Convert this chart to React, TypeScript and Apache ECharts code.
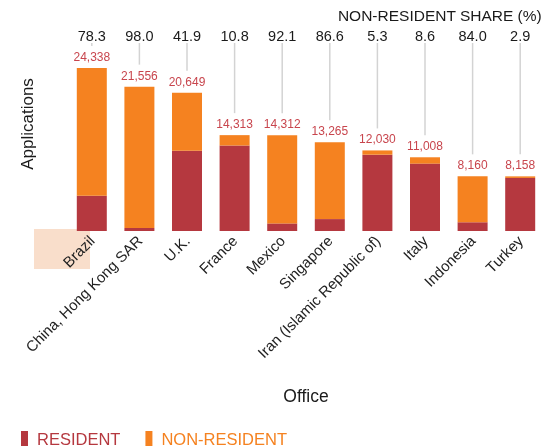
import React, { useEffect, useRef } from "react";
import * as echarts from "echarts";

const offices = [
  "Brazil",
  "China, Hong Kong SAR",
  "U.K.",
  "France",
  "Mexico",
  "Singapore",
  "Iran (Islamic Republic of)",
  "Italy",
  "Indonesia",
  "Turkey",
];
const totals = [24338, 21556, 20649, 14313, 14312, 13265, 12030, 11008, 8160, 8158];
const residents = [5281, 431, 11997, 12767, 1131, 1778, 11392, 10061, 1306, 7921];
const nonResidents = [19057, 21125, 8652, 1546, 13181, 11487, 638, 947, 6854, 237];
const nonResidentShare = ["78.3", "98.0", "41.9", "10.8", "92.1", "86.6", "5.3", "8.6", "84.0", "2.9"];

const RED = "#B5383F";
const ORANGE = "#F58220";
const FONT = "Liberation Sans, Arial, sans-serif";

export default function App() {
  const ref = useRef<HTMLDivElement>(null);
  useEffect(() => {
    if (!ref.current) return;
    const chart = echarts.init(ref.current, undefined, { renderer: "svg" });
    const maxTotal = Math.max(...totals);
    chart.setOption({
      animation: false,
      textStyle: { fontFamily: FONT },
      graphic: [
        {
          type: "rect",
          z: -10,
          shape: { x: 34, y: 229, width: 56, height: 40 },
          style: { fill: "#F9DECB" },
        },
        {
          type: "text",
          x: 27,
          y: 124,
          rotation: Math.PI / 2,
          style: {
            text: "Applications",
            font: `17px ${FONT}`,
            fill: "#1a1a1a",
            align: "center",
            verticalAlign: "middle",
          },
        },
        {
          type: "text",
          right: 2,
          top: 7,
          style: {
            text: "NON-RESIDENT SHARE (%)",
            font: `15.5px ${FONT}`,
            fill: "#1a1a1a",
          },
        },
      ],
      legend: {
        left: 21,
        top: 430,
        padding: 0,
        itemWidth: 7,
        itemHeight: 15,
        itemGap: 25,
        icon: "rect",
        textStyle: { fontSize: 16.5, fontFamily: FONT, padding: [0, 0, 0, 4] },
        data: [
          { name: "RESIDENT", textStyle: { color: RED } },
          { name: "NON-RESIDENT", textStyle: { color: ORANGE } },
        ],
      },
      grid: { left: 68, width: 484, top: 68, height: 163 },
      xAxis: [
        {
          type: "category",
          data: offices,
          axisLine: { show: false },
          axisTick: { show: false },
          axisLabel: {
            rotate: 45,
            fontSize: 15,
            color: "#222",
            margin: 7,
            interval: 0,
            fontFamily: FONT,
          },
          name: "Office",
          nameLocation: "middle",
          nameGap: 156,
          nameTextStyle: { fontSize: 17.5, color: "#1a1a1a", fontFamily: FONT },
        },
        {
          type: "category",
          position: "top",
          data: nonResidentShare,
          axisLine: { show: false },
          axisTick: { show: false },
          axisLabel: { fontSize: 14.5, color: "#1a1a1a", margin: 25, interval: 0, fontFamily: FONT },
        },
      ],
      yAxis: {
        type: "value",
        min: 0,
        max: maxTotal,
        show: false,
        splitLine: { show: false },
      },
      series: [
        {
          name: "RESIDENT",
          type: "bar",
          stack: "total",
          barWidth: 30,
          itemStyle: { color: RED },
          data: residents,
        },
        {
          name: "NON-RESIDENT",
          type: "bar",
          stack: "total",
          barWidth: 30,
          itemStyle: { color: ORANGE },
          label: {
            show: true,
            position: "top",
            distance: 5,
            fontSize: 12,
            color: "#C8454D",
            fontFamily: FONT,
            formatter: (p: any) => totals[p.dataIndex].toLocaleString("en-US"),
          },
          data: nonResidents,
        },
        {
          name: "leader",
          type: "custom",
          silent: true,
          z: 1,
          data: totals.map((t, i) => [i, t]),
          renderItem: (params: any, api: any) => {
            const p = api.coord([api.value(0), api.value(1)]);
            return {
              type: "line",
              shape: { x1: p[0], y1: 43, x2: p[0], y2: p[1] - 22 },
              style: { stroke: "#D3D3D3", lineWidth: 1.5 },
            };
          },
        },
      ],
    });
    return () => chart.dispose();
  }, []);
  return (
    <div
      ref={ref}
      style={{ position: "fixed", left: 0, top: 0, width: 544, height: 447 }}
    />
  );
}
